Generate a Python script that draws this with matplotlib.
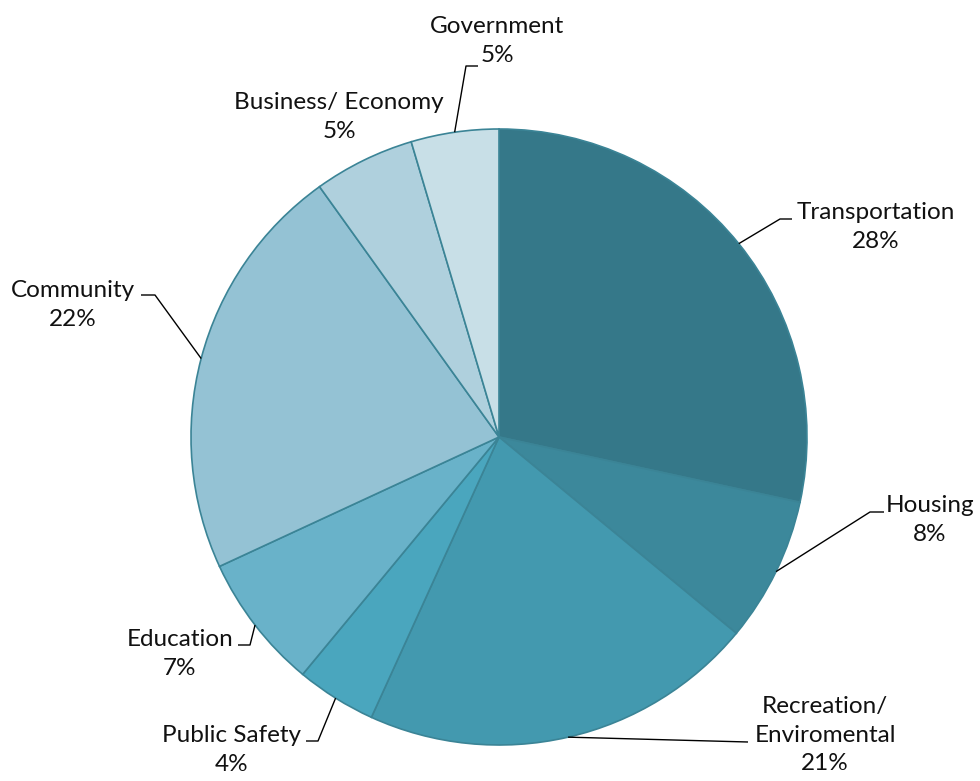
import numpy as np
import matplotlib.pyplot as plt

plt.rcParams['font.family'] = ['Lato', 'DejaVu Sans']

labels = ['Transportation', 'Housing', 'Recreation/\nEnviromental', 'Public Safety',
          'Education', 'Community', 'Business/ Economy', 'Government']
values = [28.4, 7.6, 20.8, 4.2, 7.1, 22.0, 5.3, 4.6]
colors = ['#357889', '#3c889b', '#4399af', '#4aa6be', '#69b2c9', '#94c2d4', '#afd0dd', '#c8dfe7']

# pixel helper: pie centre at (499, 437), radius 308 px
CX, CY, R = 499, 437, 308
def px(x, y):
    return ((x - CX) / R, (CY - y) / R)

# label centre, elbow point, end of short horizontal tick (pixels); None = no leader
label_pos = [
    ((876, 227), (780, 219), (792, 219)),
    ((930, 520), (870, 512), (884, 512)),
    ((825, 735), None, (748, 742)),
    ((232, 750), (318, 741), (306, 741)),
    ((180, 654), (250, 645), (238, 645)),
    ((73, 305), (155, 295), (141, 295)),
    ((339, 117), None, None),
    ((497, 41), (466, 66), (478, 66)),
]

fig = plt.figure(figsize=(9.8, 7.81), dpi=100)
ax = fig.add_axes([0, 0, 1, 1])
wedges, _ = ax.pie(values, colors=colors, startangle=90, counterclock=False, radius=1,
                   wedgeprops=dict(edgecolor='#3b8496', linewidth=1.2))

for w, lab, v, (tpos, elbow, tick) in zip(wedges, labels, values, label_pos):
    mid = np.deg2rad((w.theta1 + w.theta2) / 2)
    ex, ey = np.cos(mid), np.sin(mid)
    tx, ty = px(*tpos)
    ax.text(tx, ty, f'{lab}\n{v:.0f}%', ha='center', va='center', fontsize=17.5,
            color='#111111', linespacing=1.45)
    if tick is None:
        continue
    pts = [(ex, ey)]
    if elbow is not None:
        pts.append(px(*elbow))
    pts.append(px(*tick))
    xs, ys = zip(*pts)
    ax.plot(xs, ys, color='black', lw=1.0, solid_capstyle='butt')

ax.set_xlim(-CX / R, (980 - CX) / R)
ax.set_ylim(-(781 - CY) / R, CY / R)
ax.set_aspect('auto')
ax.axis('off')
fig.savefig('out.png', dpi=100, facecolor='white')
